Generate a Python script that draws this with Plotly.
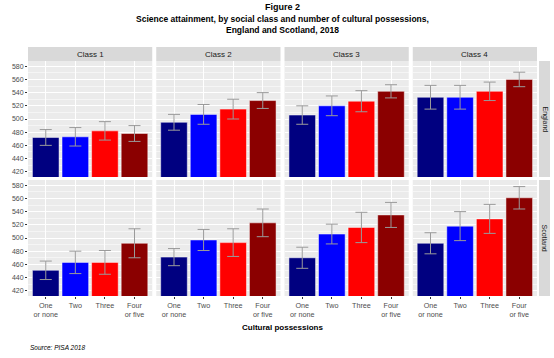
import plotly.graph_objects as go
from plotly.subplots import make_subplots

categories = ["One<br>or none", "Two", "Three", "Four<br>or five"]
classes = ["Class 1", "Class 2", "Class 3", "Class 4"]
countries = ["England", "Scotland"]
bar_colors = ["#000080", "#0000FF", "#FF0000", "#8B0000"]

england_mean = [
    [472, 473, 482, 478],
    [495, 507, 515, 528],
    [506, 520, 527, 542],
    [533, 533, 542, 560],
]
england_err = [
    [12, 14, 14, 12],
    [12, 15, 15, 12],
    [14, 15, 16, 10],
    [18, 18, 14, 11],
]
scotland_mean = [
    [451, 463, 463, 492],
    [471, 497, 493, 523],
    [470, 506, 516, 535],
    [492, 518, 529, 561],
]
scotland_err = [
    [14, 17, 18, 22],
    [13, 16, 21, 21],
    [16, 15, 23, 19],
    [16, 22, 22, 17],
]

W, H = 554, 358
ML, MR, MT, MB = 28, 17, 61, 62
PW = W - ML - MR
PH = H - MT - MB
FONT = "Liberation Sans, Arial, sans-serif"

fig = make_subplots(rows=2, cols=4, horizontal_spacing=4 / PW, vertical_spacing=3 / PH)

data = [(england_mean, england_err), (scotland_mean, scotland_err)]
for r, (means, errs) in enumerate(data, start=1):
    for c in range(4):
        fig.add_trace(
            go.Bar(
                x=list(range(len(categories))),
                y=means[c],
                marker=dict(color=bar_colors, line=dict(color="rgba(255,255,255,0.8)", width=0.6)),
                error_y=dict(type="data", array=errs[c], color="#9A9A9A", thickness=1, width=6),
                width=0.9,
                showlegend=False,
                hoverinfo="skip",
            ),
            row=r, col=c + 1,
        )

for r in (1, 2):
    for c in range(1, 5):
        fig.update_xaxes(
            row=r, col=c,
            range=[-0.6, 3.6],
            tickmode="array",
            tickvals=list(range(len(categories))),
            ticktext=categories if r == 2 else [""] * 4,
            showticklabels=(r == 2),
            ticks="outside" if r == 2 else "",
            ticklen=2, tickcolor="#333333", tickwidth=1,
            showgrid=True, gridcolor="white", gridwidth=1,
            zeroline=False, showline=False,
            tickfont=dict(family=FONT, size=7.2, color="#4D4D4D"),
        )
        fig.update_yaxes(
            row=r, col=c,
            range=[412, 588],
            tickmode="array",
            tickvals=[420, 440, 460, 480, 500, 520, 540, 560, 580],
            showticklabels=(c == 1),
            ticks="outside" if c == 1 else "",
            ticklen=2, tickcolor="#333333", tickwidth=1,
            showgrid=True, gridcolor="white", gridwidth=1,
            minor=dict(tickmode="array", tickvals=[430, 450, 470, 490, 510, 530, 550, 570],
                       showgrid=True, gridcolor="white", gridwidth=0.5, ticks=""),
            zeroline=False, showline=False,
            tickfont=dict(family=FONT, size=7, color="#4D4D4D"),
        )

shapes = []
annotations = []
# top strips
for c in range(4):
    xa = fig.layout["xaxis" + ("" if c == 0 else str(c + 1))]
    x0, x1 = xa.domain
    shapes.append(dict(type="rect", xref="paper", yref="paper", x0=x0, x1=x1,
                       y0=1, y1=1 + 14 / PH, fillcolor="#D9D9D9", line=dict(width=0), layer="below"))
    annotations.append(dict(text=classes[c], xref="paper", yref="paper", x=(x0 + x1) / 2,
                            y=1 + 7 / PH, showarrow=False, xanchor="center", yanchor="middle",
                            font=dict(family=FONT, size=8, color="#1A1A1A")))
# right strips
for r in range(2):
    ya = fig.layout["yaxis" + ("" if r == 0 else str(r * 4 + 1))]
    y0, y1 = ya.domain
    shapes.append(dict(type="rect", xref="paper", yref="paper", x0=1 + 2 / PW, x1=1 + 13 / PW,
                       y0=y0, y1=y1, fillcolor="#D9D9D9", line=dict(width=0), layer="below"))
    annotations.append(dict(text=countries[r], xref="paper", yref="paper", x=1 + 7.5 / PW,
                            y=(y0 + y1) / 2, showarrow=False, textangle=90,
                            xanchor="center", yanchor="middle",
                            font=dict(family=FONT, size=7, color="#1A1A1A")))

def py(px):
    return (H - MB - px) / PH

annotations += [
    dict(text="<b>Figure 2</b>", xref="paper", yref="paper", x=0.5, y=py(7), showarrow=False,
         xanchor="center", yanchor="middle", font=dict(family=FONT, size=9, color="black")),
    dict(text="<b>Science attainment, by social class and number of cultural possessions,</b>",
         xref="paper", yref="paper", x=0.5, y=py(19), showarrow=False,
         xanchor="center", yanchor="middle", font=dict(family=FONT, size=8.5, color="black")),
    dict(text="<b>England and Scotland, 2018</b>", xref="paper", yref="paper", x=0.5, y=py(29.5),
         showarrow=False, xanchor="center", yanchor="middle",
         font=dict(family=FONT, size=8.5, color="black")),
    dict(text="<b>Cultural possessions</b>", xref="paper", yref="paper", x=0.5, y=py(327),
         showarrow=False, xanchor="center", yanchor="middle",
         font=dict(family=FONT, size=8, color="black")),
    dict(text="<i>Source: PISA 2018</i>", xref="paper", yref="paper", x=0, y=py(347),
         showarrow=False, xanchor="left", yanchor="middle",
         font=dict(family=FONT, size=6.5, color="black")),
]

fig.update_layout(
    width=W, height=H,
    margin=dict(l=ML, r=MR, t=MT, b=MB, autoexpand=False),
    paper_bgcolor="white",
    plot_bgcolor="#EBEBEB",
    bargap=0.1,
    shapes=shapes,
    annotations=annotations,
    font=dict(family=FONT),
    hovermode=False,
)

fig.write_html("out.html", config={"displayModeBar": False, "staticPlot": True},
               post_script="document.body.style.margin='0';document.body.style.padding='0';")
